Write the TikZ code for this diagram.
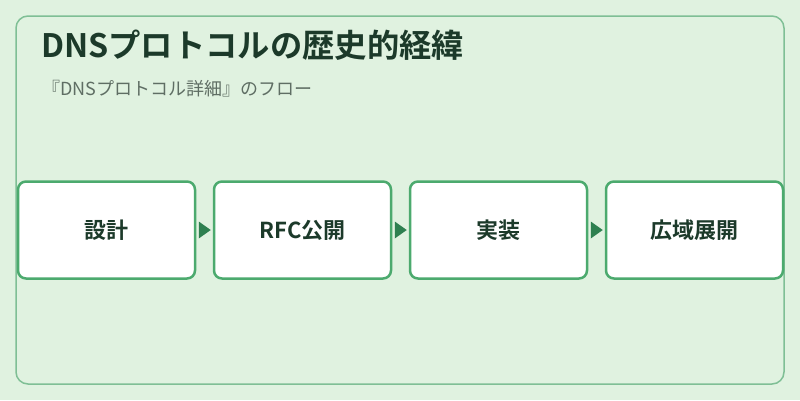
\documentclass[tikz,border=0pt]{standalone}
\usepackage{fontspec}
\setmainfont{Noto Sans CJK JP}[BoldFont={Noto Sans CJK JP Bold}]
\definecolor{bgc}{HTML}{E0F2E0}
\definecolor{framec}{HTML}{7FBF95}
\definecolor{boxc}{HTML}{4CAA6E}
\definecolor{arrc}{HTML}{2E8050}
\definecolor{titlec}{HTML}{1C3A2A}
\definecolor{subc}{HTML}{5F6E64}
\begin{document}
\begin{tikzpicture}[x=1pt,y=-1pt,
  stepbox/.style={draw=boxc,line width=2.5pt,fill=white,rounded corners=8pt,minimum width=177pt,minimum height=97pt,inner sep=0pt,font=\fontsize{22}{24}\selectfont\bfseries,text=titlec},
  tri/.style={fill=arrc,draw=none}]
\fill[bgc] (0,0) rectangle (800,400);
\useasboundingbox (0,0) rectangle (800,400);
\draw[framec,line width=1.5pt,fill=bgc,rounded corners=12pt] (16,16) rectangle (784,384);
\node[anchor=base west,inner sep=0pt,font=\fontsize{32.3}{34}\selectfont\bfseries,text=titlec] (title) at (41,57) {DNSプロトコルの歴史的経緯};
\node[anchor=base west,inner sep=0pt,font=\fontsize{18}{20}\selectfont,text=subc] (sub) at (42,95) {『DNSプロトコル詳細』のフロー};
\node[stepbox] (b1) at (106.5,230) {設計};
\node[stepbox] (b2) at (302.5,230) {RFC公開};
\node[stepbox] (b3) at (498.5,230) {実装};
\node[stepbox] (b4) at (694.5,230) {広域展開};
\foreach \a/\b in {b1/b2,b2/b3,b3/b4}{
  \path (\b.west) ++(-2,0) coordinate (tip\b);
  \fill[tri] (tip\b) -- ++(-12,-8.5) -- ++(0,17) -- cycle;
}
\end{tikzpicture}
\end{document}
